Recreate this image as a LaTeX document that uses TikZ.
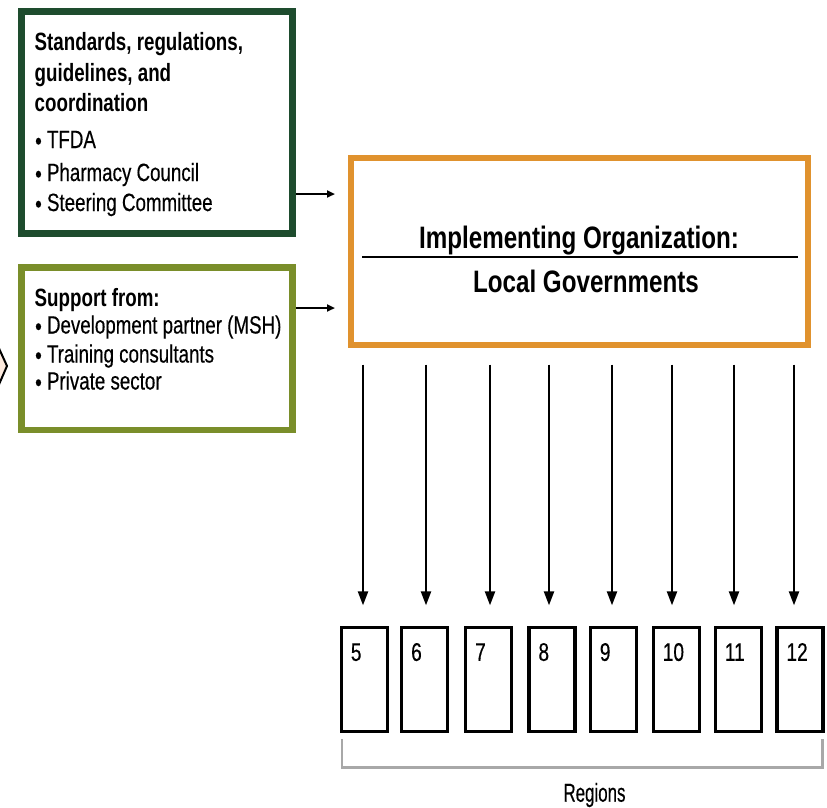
\documentclass[tikz,border=0pt]{standalone}
\usepackage{fontspec}
\setmainfont[FakeStretch=0.75, UprightFeatures={FakeBold=0.35}]{Liberation Sans}
\newfontfamily\narrowfont[FakeStretch=0.65, FakeBold=0.35]{Liberation Sans}
\newfontfamily\titlefont[FakeStretch=0.78]{Liberation Sans}
\usetikzlibrary{arrows.meta}
\definecolor{dkgreen}{RGB}{30,76,46}
\definecolor{olivegr}{RGB}{122,142,42}
\definecolor{orng}{RGB}{224,146,46}
\definecolor{peach}{RGB}{253,234,222}
\definecolor{brgray}{RGB}{168,168,168}
\newcommand{\bul}{\raisebox{-1.5pt}{•}\ }
\tikzset{
  frame/.style={draw, rectangle, inner sep=0pt},
  txt/.style={anchor=base west, inner sep=0pt, font=\fontsize{25}{28}\selectfont},
  hdr/.style={txt, font=\fontsize{25}{28}\selectfont\bfseries},
  ttl/.style={anchor=base, inner sep=0pt, font=\titlefont\fontsize{31}{34}\selectfont\bfseries},
  regbox/.style={draw, rectangle, line width=3.5pt, minimum width=46pt, minimum height=104pt, inner sep=0pt},
  num/.style={anchor=base west, inner sep=0pt, font=\fontsize{25.5}{28}\selectfont},
  harrow/.style={line width=2pt, -{Triangle[length=8pt,width=7pt]}},
  varrow/.style={line width=2.2pt, -{Triangle[length=14pt,width=10pt]}},
}
\begin{document}
\begin{tikzpicture}[x=1pt,y=-1pt]
\useasboundingbox (0,0) rectangle (827,807);
\fill[white] (0,0) rectangle (827,807);
% partial chevron at left edge
\filldraw[fill=peach, draw=black, line width=2pt, line join=miter] (-3,344) -- (7,366) -- (-3,389);
% box 1
\node[frame, draw=dkgreen, line width=6.5pt, minimum width=271pt, minimum height=222pt] (b1) at (157.2,122.6) {};
\node[hdr] (b1h1) at (34.5,50) {Standards, regulations,};
\node[hdr] (b1h2) at (34.5,81) {guidelines, and};
\node[hdr] (b1h3) at (34.5,111) {coordination};
\node[txt] (b1l1) at (35,148) {\bul TFDA};
\node[txt] (b1l2) at (35,181) {\bul Pharmacy Council};
\node[txt] (b1l3) at (35,211) {\bul Steering Committee};
% box 2
\node[frame, draw=olivegr, line width=6.5pt, minimum width=271pt, minimum height=162.7pt] (b2) at (157.2,348.7) {};
\node[hdr] (b2h) at (34.5,306) {Support from:};
\node[txt] (b2l1) at (35,333.5) {\bul Development partner (MSH)};
\node[txt] (b2l2) at (35,362.5) {\bul Training consultants};
\node[txt] (b2l3) at (35,389.5) {\bul Private sector};
% implementing organization
\node[frame, draw=orng, line width=6pt, minimum width=457pt, minimum height=186.4pt] (org) at (579.5,251.5) {};
\node[ttl] (t1) at (579,248) {Implementing Organization:};
\node[ttl] (t2) at (586,292.7) {Local Governments};
\draw[line width=2pt] (362,257) -- (798,257);
% arrows into organization
\draw[harrow, shorten >=13pt] (b1.east |- 0,194) -- (org.west |- 0,194);
\draw[harrow, shorten >=13pt] (b2.east |- 0,308) -- (org.west |- 0,308);
% region boxes
\foreach \i/\cx/\lab in {1/364.4/5, 2/424.7/6, 3/488.7/7, 4/552/8, 5/613.4/9, 6/676.3/10, 7/738.4/11, 8/800/12} {
  \node[regbox] (r\i) at (\cx,679.6) {};
  \node[num] (n\i) at ([xshift=11pt, yshift=-35pt]r\i.north west) {\lab};
}
% arrows to regions
\foreach \i/\dx in {1/-1.4, 2/1.3, 3/1.3, 4/-3, 5/-1.4, 6/-4.3, 7/-4.4, 8/-6} {
  \draw[varrow] ([xshift=\dx pt, yshift=-17pt]r\i.north |- org.south) -- ([xshift=\dx pt, yshift=20.5pt]r\i.north);
}
% bracket
\draw[brgray, line width=2.5pt] (342,739) -- (342,767.5) -- (822.5,767.5) -- (822.5,739);
\node[anchor=base, inner sep=0pt, font=\narrowfont\fontsize{26}{30}\selectfont] (reg) at (594.5,801.7) {Regions};
\end{tikzpicture}
\end{document}
